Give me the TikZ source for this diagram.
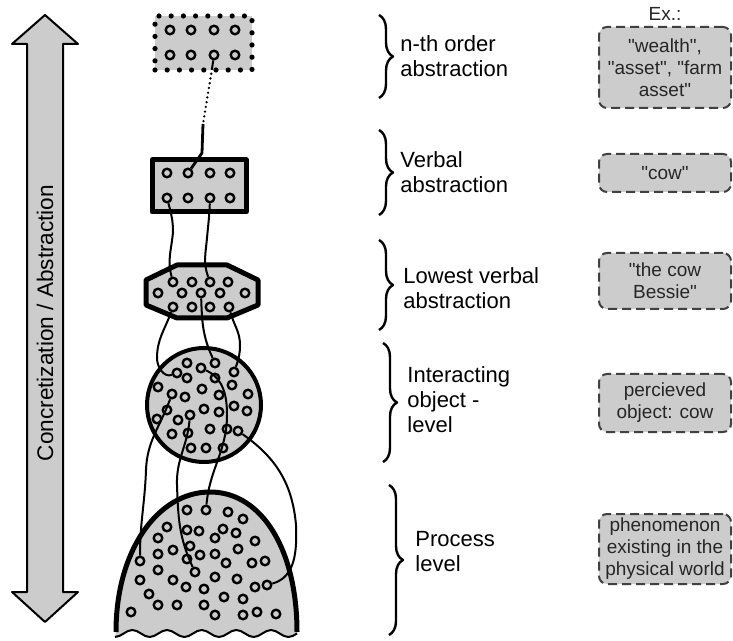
\documentclass[tikz,border=0pt]{standalone}
\usepackage{fontspec}
\setmainfont{Liberation Sans}
\usepackage{xcolor}
\usepackage{tikz}
\usetikzlibrary{positioning,calc,decorations.pathreplacing}
\definecolor{fillgrey}{gray}{0.8}

\begin{document}
\begin{tikzpicture}[x=0.5pt,y=-0.5pt,line join=round]
	\tikzstyle{grain}=[circle,draw,line width=1.2pt,minimum size=4.3pt,inner sep=0pt]
	\tikzstyle{wire}=[line width=1pt]
	\tikzstyle{level}=[fill=fillgrey,draw,line width=2.5pt]
	\tikzstyle{lbl}=[anchor=west,align=left,inner sep=0pt,font=\fontsize{11}{12.5}\selectfont]
	\tikzstyle{sample}=[draw=black!75,fill=fillgrey,dash pattern=on 4.5pt off 2.5pt,line width=1pt,rounded corners=4pt,minimum width=66pt,align=center,inner sep=2pt,text=black!85,font=\fontsize{9.5}{11}\selectfont]
	\tikzstyle{brc}=[decorate,decoration={brace,amplitude=7pt},line width=1.2pt]
	\useasboundingbox (0,0) rectangle (733,641);

	% axis
	\draw[fill=fillgrey,line width=1pt] (45,15) -- (78,44) -- (63,44) -- (63,592) -- (78,592) -- (45,622) -- (12,592) -- (27,592) -- (27,44) -- (12,44) -- cycle;
	\node[rotate=90,font=\fontsize{11.3}{13}\selectfont] (axis) at (45,323) {Concretization / Abstraction};

	% levels
	\node[fill=fillgrey,draw,line width=2.6pt,dash pattern=on 0pt off 6.1pt,line cap=round,minimum width=48.5pt,minimum height=27pt] (nth) at (203.5,43) {};
	\node[level,minimum width=47pt,minimum height=26pt] (verbal) at (199,186) {};
	\draw[level] (177,265) -- (227,265) -- (258,280) -- (258,305) -- (227,318) -- (177,318) -- (146,305) -- (146,280) -- cycle;
	\draw[level,line width=2pt] (204,405) circle[radius=28.5pt];
	\fill[fillgrey] (115,637) \foreach \k in {1,...,5}{ cos ++(8.667,-3.5) sin ++(8.667,-3.5) cos ++(8.667,3.5) sin ++(8.667,3.5)} cos ++(8.667,-3.5)
		-- (297,632) .. controls (297,550) and (262,492) .. (210,492) .. controls (158,492) and (116,550) .. (116,632) -- cycle;
	\draw[line width=2.5pt] (116,632) .. controls (116,550) and (158,492) .. (210,492) .. controls (262,492) and (297,550) .. (297,632);
	\draw[line width=1pt] (115,637) \foreach \k in {1,...,5}{ cos ++(8.667,-3.5) sin ++(8.667,-3.5) cos ++(8.667,3.5) sin ++(8.667,3.5)} cos ++(8.667,-3.5);

	\foreach \n/\x/\y in {t1/170/30, t2/191/30, t3/214/30, t4/235/30, t5/170/55, t6/191/55, t7/214/55, t8/235/55,
		v1/167/173, v2/188/173, v3/210/173, v4/230/173, v5/167/198, v6/188/198, v7/210/198, v8/230/198,
		o1/173/282, o2/192/282, o3/210/282, o4/228/282, o5/158/293, o6/182/293, o7/201/293, o8/220/293, o9/245/293,
		o10/173/307, o11/192/307, o12/210/307, o13/229/307}
		\node[grain] (\n) at (\x,\y) {};
	\foreach \n/\x/\y in {c1/187/363, c2/201/368, c3/215/363, c4/234/372, c5/177/373, c6/187/378, c7/215/378,
		c8/158/387, c9/202/389, c10/232/385, c11/172/394, c12/185/397, c13/219/395, c14/248/394,
		c15/167/410, c16/204/409, c17/219/412, c18/234/406, c19/247/411, c20/157/419, c21/178/420,
		c22/190/415, c23/210/429, c24/227/429, c25/238/431, c26/172/434, c27/188/433,
		c28/191/448, c29/206/448, c30/223/448}
		\node[grain] (\n) at (\x,\y) {};
	\foreach \n/\x/\y in {d1/187/510, d2/206/510, d3/228/512, d4/243/519, d5/167/527, d6/187/530, d7/199/531,
		d8/223/529, d9/236/533, d10/158/538, d11/215/538, d12/255/541, d13/190/546, d14/173/550,
		d15/158/554, d16/200/555, d17/215/554, d18/238/549, d19/140/561, d20/187/559, d21/226/563,
		d22/252/563, d23/265/561, d24/158/570, d25/195/572, d26/215/577, d27/237/579, d28/140/580,
		d29/173/580, d30/186/587, d31/204/589, d32/255/587, d33/267/585, d34/149/594, d35/224/597,
		d36/243/599, d37/158/605, d38/177/605, d39/204/605, d40/131/612, d41/257/612, d42/215/615,
		d43/243/615, d44/276/614}
		\node[grain] (\n) at (\x,\y) {};

	% links between the levels
	\coordinate (q1) at (212,69);
	\coordinate (q2) at (203,124);
	\draw[wire] (t7) -- (q1);
	\draw[line width=1.3pt,dash pattern=on 0pt off 2.4pt,line cap=round] (q1) -- (q2);
	\draw[line width=1.4pt] (q2) -- (202,153) -- (v2);
	\draw[wire] (v5) to[out=-75,in=90] (173,232) to[out=-95,in=105] (o1);
	\draw[wire] (v7) to[out=-92,in=85] (207,238) to[out=-95,in=110] (o3);
	\draw[wire] (o10) to[out=-110,in=90] (157,358) to[out=-90,in=200] (c5);
	\draw[wire] (o7) to[out=-88,in=115] (c3);
	\draw[wire] (o13) to[out=-75,in=90] (240,345) to[out=-90,in=70] (c4);
	\draw[wire] (c11) to[out=-110,in=88] (146,470) to[out=-92,in=90] (d19);
	\draw[wire] (c22) to[out=-95,in=92] (177,485) to[out=-88,in=115] (d25);
	\draw[wire] (c2) to[out=-25,in=90] (227,415) to[out=-90,in=85] (d2);
	\draw[wire] (c25) to[out=-35,in=95] (296,525) to[out=-88,in=15] (d33);

	% braces and level names
	\draw[brc] (379,15) -- (379,98);
	\draw[brc] (379,130) -- (379,215);
	\draw[brc] (379,240) -- (379,330);
	\draw[brc] (383,343) -- (383,462);
	\draw[brc] (389,485) -- (389,635);
	\node[lbl] (nth-l) at (400,56) {n-th order\\abstraction};
	\node[lbl] (verbal-l) at (400,172) {Verbal\\abstraction};
	\node[lbl] (lowest-l) at (403,288) {Lowest verbal\\abstraction};
	\node[lbl] (object-l) at (407,400) {Interacting\\object -\\level};
	\node[lbl] (process-l) at (415,552) {Process\\level};

	% examples
	\node[sample,minimum height=40.5pt] (ex1) at (665,67.5) {\textquotedbl wealth\textquotedbl,\\\textquotedbl asset\textquotedbl, \textquotedbl farm\\asset\textquotedbl};
	\node[above=-1pt of ex1,font=\fontsize{9.5}{11}\selectfont,text=black!85] (ex) {Ex.:};
	\node[sample,minimum height=19pt] (ex2) at (665,173) {\textquotedbl cow\textquotedbl};
	\node[sample,minimum height=28pt] (ex3) at (665,281) {\textquotedbl the cow\\Bessie\textquotedbl};
	\node[sample,minimum height=29pt] (ex4) at (665,403) {percieved\\object: cow};
	\node[sample,minimum height=35pt] (ex5) at (665,549) {phenomenon\\existing in the\\physical world};
\end{tikzpicture}
\end{document}
